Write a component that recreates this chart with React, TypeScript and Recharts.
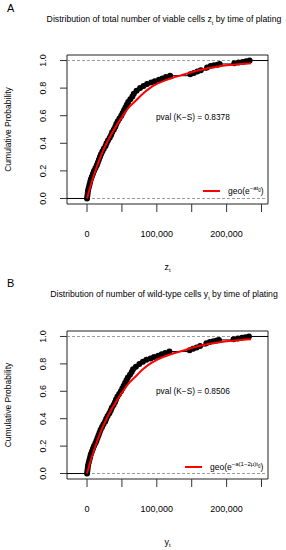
import React from 'react';
import { ComposedChart, Line, XAxis, YAxis, ReferenceLine, ReferenceArea, Label } from 'recharts';

const FONT = '"Liberation Sans", Arial, Helvetica, sans-serif';

// empirical CDF, panel A (cells in thousands)
const zCells = [0, 0.5, 1, 1.5, 2.5, 3.5, 4.5, 5.5, 7, 8.5, 10, 12, 14, 15.5, 17, 18.5, 20, 22, 24, 26.5, 28, 30, 32.5, 34.5, 36, 38.5, 40.5, 42, 44, 46.5, 49, 51, 53, 55, 57, 59, 62, 65, 67, 71, 76, 81, 86, 92, 97, 103, 108, 113, 119, 148, 153, 158, 163, 172, 177, 182, 187, 190, 211, 217, 223, 228, 233];
const zProb = [0, 0.02, 0.04, 0.06, 0.08, 0.1, 0.12, 0.14, 0.16, 0.18, 0.2, 0.22, 0.24, 0.26, 0.28, 0.3, 0.32, 0.34, 0.36, 0.38, 0.4, 0.42, 0.44, 0.46, 0.48, 0.5, 0.52, 0.54, 0.56, 0.58, 0.6, 0.62, 0.64, 0.66, 0.68, 0.7, 0.72, 0.74, 0.76, 0.78, 0.8, 0.815, 0.83, 0.84, 0.85, 0.86, 0.87, 0.88, 0.89, 0.9, 0.91, 0.92, 0.93, 0.95, 0.96, 0.965, 0.97, 0.975, 0.98, 0.985, 0.99, 0.995, 1];

// empirical CDF, panel B
const yCells = [0, 0.5, 1, 1.5, 2.5, 3.5, 4.5, 5.5, 7, 8.5, 10, 12, 13.5, 15, 16.5, 18, 19.5, 21.5, 23.5, 26, 27.5, 29.5, 32, 34, 35.5, 38, 40, 41.5, 43.5, 46, 48.5, 50.5, 52.5, 54.5, 56.5, 58.5, 61.5, 64, 66, 70, 75, 80, 85, 91, 96, 102, 107, 112, 118, 147, 152, 157, 162, 171, 176, 181, 186, 189, 210, 216, 222, 227, 232];
const yProb = [0, 0.02, 0.04, 0.06, 0.08, 0.1, 0.12, 0.14, 0.16, 0.18, 0.2, 0.22, 0.24, 0.26, 0.28, 0.3, 0.32, 0.34, 0.36, 0.38, 0.4, 0.42, 0.44, 0.46, 0.48, 0.5, 0.52, 0.54, 0.56, 0.58, 0.6, 0.62, 0.64, 0.66, 0.68, 0.7, 0.72, 0.74, 0.76, 0.78, 0.8, 0.815, 0.83, 0.84, 0.85, 0.86, 0.87, 0.88, 0.89, 0.9, 0.91, 0.92, 0.93, 0.95, 0.96, 0.965, 0.97, 0.975, 0.98, 0.985, 0.99, 0.995, 1];

// fitted geometric curves
const fitCells = [0, 5, 10, 20, 30, 40, 50, 60, 70, 80, 90, 100, 120, 140, 160, 180, 200, 220, 235];
const fitZ = [0, 0.09, 0.17, 0.31, 0.42, 0.51, 0.59, 0.66, 0.71, 0.76, 0.8, 0.83, 0.87, 0.9, 0.93, 0.95, 0.965, 0.975, 0.98];
const fitY = [0, 0.09, 0.17, 0.31, 0.42, 0.51, 0.59, 0.66, 0.71, 0.76, 0.8, 0.83, 0.87, 0.9, 0.93, 0.95, 0.965, 0.975, 0.98];

const xTicks = [0, 50000, 100000, 150000, 200000, 250000];
const xLabelled = [0, 100000, 200000];
const yTicks = [0, 0.2, 0.4, 0.6, 0.8, 1];
const X_MIN = -28700;
const X_MAX = 259300;
const Y_MIN = -0.04;
const Y_MAX = 1.04;

const toPoints = (xs: number[], ps: number[]) => xs.map((x, i) => ({ x: x * 1000, p: ps[i] }));

const XTick = (props: any) => {
  const { x, y, payload } = props;
  if (!xLabelled.includes(payload.value)) return <g />;
  return (
    <text x={x} y={y} textAnchor="middle" fontSize={9} fontFamily={FONT} fill="#000">
      {payload.value.toLocaleString('en-US')}
    </text>
  );
};

const YTick = (props: any) => {
  const { x, y, payload } = props;
  return (
    <text x={x} y={y} transform={`rotate(-90, ${x}, ${y})`} textAnchor="middle" fontSize={9} fontFamily={FONT} fill="#000">
      {payload.value.toFixed(1)}
    </text>
  );
};

interface PanelProps {
  top: number;
  letter: string;
  title: React.ReactNode;
  xName: string;
  ecdf: { x: number; p: number }[];
  fit: { x: number; p: number }[];
  pval: string;
  pvalTop: number;
  legend: React.ReactNode;
  legendLeft: number;
  plotTop: number;
}

const Panel: React.FC<PanelProps> = ({ top, letter, title, xName, ecdf, fit, pval, pvalTop, legend, legendLeft, plotTop }) => {
  const last = ecdf[ecdf.length - 1];
  const leftTail = [{ x: X_MIN, p: 0 }, { x: ecdf[0].x, p: 0 }];
  const rightTail = [{ x: last.x, p: 1 }, { x: X_MAX, p: 1 }];

  return (
    <div style={{ position: 'absolute', left: 0, top, width: 286, height: 275, fontFamily: FONT }}>
      <div style={{ position: 'absolute', left: 0, top: 0 }}>
        <ComposedChart width={286} height={275} margin={{ top: plotTop, right: 18, bottom: 0, left: 0 }}>
          <XAxis
            type="number"
            dataKey="x"
            domain={[X_MIN, X_MAX]}
            ticks={xTicks}
            interval={0}
            allowDataOverflow
            height={71}
            tickSize={8}
            tickMargin={25}
            axisLine={false}
            tickLine={{ stroke: '#333' }}
            tick={XTick}
          >
            <Label
              content={(p: any) => {
                const vb = p.viewBox;
                return (
                  <text x={vb.x + vb.width / 2} y={vb.y + 66} textAnchor="middle" fontSize={9} fontFamily={FONT} fill="#000">
                    {xName}
                    <tspan fontSize={6} dy={2}>t</tspan>
                  </text>
                );
              }}
            />
          </XAxis>
          <YAxis
            type="number"
            dataKey="p"
            domain={[Y_MIN, Y_MAX]}
            ticks={yTicks}
            interval={0}
            allowDataOverflow
            width={67}
            tickSize={7}
            tickMargin={14}
            axisLine={false}
            tickLine={{ stroke: '#333' }}
            tick={YTick}
          >
            <Label
              content={(p: any) => {
                const vb = p.viewBox;
                const cy = vb.y + vb.height / 2;
                return (
                  <text x={11} y={cy} transform={`rotate(-90, 11, ${cy})`} textAnchor="middle" fontSize={8.5} fontFamily={FONT} fill="#000">
                    Cumulative Probability
                  </text>
                );
              }}
            />
          </YAxis>
          <ReferenceArea x1={X_MIN} x2={X_MAX} y1={Y_MIN} y2={Y_MAX} fill="none" fillOpacity={0} stroke="#222" strokeWidth={1} />
          <ReferenceLine y={0} stroke="#9a9a9a" strokeDasharray="3 2" />
          <ReferenceLine y={1} stroke="#9a9a9a" strokeDasharray="3 2" />
          <Line data={leftTail} dataKey="p" stroke="#000" strokeWidth={1} dot={false} isAnimationActive={false} />
          <Line data={rightTail} dataKey="p" stroke="#000" strokeWidth={1} dot={false} isAnimationActive={false} />
          <Line
            data={ecdf}
            type="stepAfter"
            dataKey="p"
            stroke="#000"
            strokeWidth={1}
            dot={{ r: 3, fill: '#000', stroke: '#000', strokeWidth: 0 }}
            isAnimationActive={false}
          />
        </ComposedChart>
      </div>

      {/* fitted curve on a transparent copy of the same scales so it sits above the points */}
      <div style={{ position: 'absolute', left: 0, top: 0, pointerEvents: 'none' }}>
        <ComposedChart width={286} height={275} margin={{ top: plotTop, right: 18, bottom: 71, left: 67 }}>
          <XAxis type="number" dataKey="x" domain={[X_MIN, X_MAX]} allowDataOverflow hide />
          <YAxis type="number" dataKey="p" domain={[Y_MIN, Y_MAX]} allowDataOverflow hide />
          <Line data={fit} type="monotone" dataKey="p" stroke="#ff0000" strokeWidth={2} dot={false} isAnimationActive={false} />
        </ComposedChart>
      </div>

      <div style={{ position: 'absolute', left: 7, top: 2, fontSize: 11, lineHeight: '12px' }}>{letter}</div>
      <div style={{ position: 'absolute', left: 14, width: 300, top: 14, fontSize: 8.7, lineHeight: '10px', textAlign: 'center', whiteSpace: 'nowrap' }}>
        {title}
      </div>
      <div style={{ position: 'absolute', left: 156, top: pvalTop, fontSize: 8.3, lineHeight: '10px', whiteSpace: 'nowrap' }}>{pval}</div>
      <div style={{ position: 'absolute', left: legendLeft, top: plotTop + 131, display: 'flex', alignItems: 'center', whiteSpace: 'nowrap' }}>
        <div style={{ width: 17, height: 2, background: '#ff0000', marginRight: 8 }} />
        <span style={{ fontSize: 8.5, lineHeight: '10px' }}>{legend}</span>
      </div>
    </div>
  );
};

const supStyle: React.CSSProperties = { fontSize: 6, verticalAlign: 'super', lineHeight: 0 };
const subStyle: React.CSSProperties = { fontSize: 4.5, verticalAlign: 'sub', lineHeight: 0 };
const titleSub: React.CSSProperties = { fontSize: 5.5, verticalAlign: 'sub', lineHeight: 0 };

export default function App() {
  return (
    <div style={{ position: 'absolute', left: 0, top: 0, width: 286, height: 550, overflow: 'hidden', background: '#fff' }}>
      <Panel
        top={0}
        letter="A"
        title={<>Distribution of total number of viable cells z<span style={titleSub}>t</span> by time of plating</>}
        xName="z"
        ecdf={toPoints(zCells, zProb)}
        fit={toPoints(fitCells, fitZ)}
        pval="pval (K−S) = 0.8378"
        pvalTop={112}
        legend={<>geo(e<span style={supStyle}>−at<span style={subStyle}>0</span></span>)</>}
        legendLeft={203}
        plotTop={55}
      />
      <Panel
        top={275}
        letter="B"
        title={<>Distribution of number of wild-type cells y<span style={titleSub}>t</span> by time of plating</>}
        xName="y"
        ecdf={toPoints(yCells, yProb)}
        fit={toPoints(fitCells, fitY)}
        pval="pval (K−S) = 0.8506"
        pvalTop={111}
        legend={<>geo(e<span style={supStyle}>−a(1−2μ)t<span style={subStyle}>0</span></span>)</>}
        legendLeft={185}
        plotTop={56}
      />
    </div>
  );
}
